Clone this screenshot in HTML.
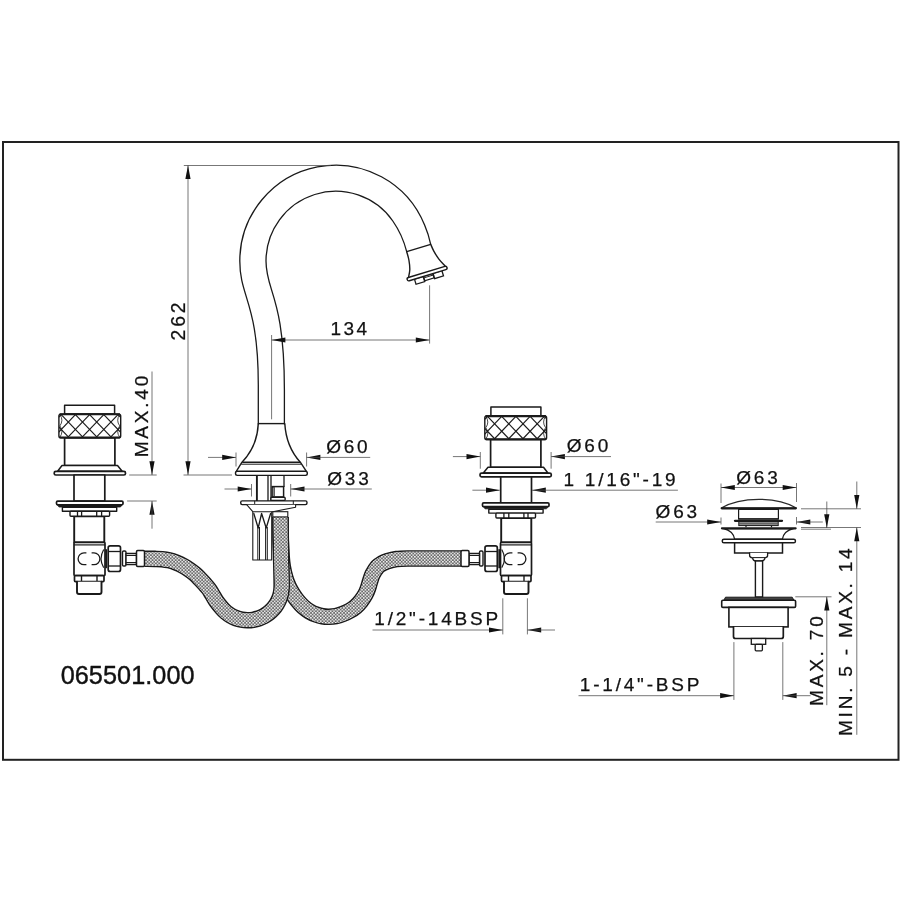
<!DOCTYPE html>
<html lang="en">
<head>
<meta charset="utf-8">
<title>065501.000</title>
<style>
html,body{margin:0;padding:0;background:#fff;}
body{width:900px;height:900px;overflow:hidden;}
svg{display:block;will-change:transform;}
text{white-space:pre;}
</style>
</head>
<body>
<svg width="900" height="900" viewBox="0 0 900 900" role="img" aria-label="Technical drawing 065501.000">
<defs>
<pattern id="hp" width="3.3" height="3.3" patternUnits="userSpaceOnUse">
<rect width="3.3" height="3.3" fill="#fff"/>
<rect width="3.3" height="3.3" fill="#6c6c6c"/>
<rect x="0" y="0" width="1.45" height="1.45" fill="#fff"/>
<rect x="1.65" y="1.65" width="1.45" height="1.45" fill="#fff"/>
</pattern>
<clipPath id="kn"><rect x="58.9" y="414.1" width="61.8" height="23.6" rx="1.8"/></clipPath>
</defs>
<rect width="900" height="900" fill="#fff"/>
<rect x="3" y="142" width="895.5" height="617.8" fill="none" stroke="#222" stroke-width="2"/>
<path d="M280.50 517.00 C280.55 520.83 280.62 533.50 280.80 540.00 C280.98 546.50 281.27 551.50 281.60 556.00 C281.93 560.50 282.17 563.32 282.80 567.00 C283.43 570.68 284.43 574.85 285.40 578.10 C286.37 581.35 287.38 583.88 288.60 586.50 C289.82 589.12 291.22 591.45 292.70 593.80 C294.18 596.15 295.78 598.47 297.50 600.60 C299.22 602.73 301.03 604.82 303.00 606.60 C304.97 608.38 307.10 609.97 309.30 611.30 C311.50 612.63 314.00 613.77 316.20 614.60 C318.40 615.43 320.38 615.95 322.50 616.30 C324.62 616.65 326.68 616.73 328.90 616.70 C331.12 616.67 333.52 616.53 335.80 616.10 C338.08 615.67 340.32 614.97 342.60 614.10 C344.88 613.23 347.30 612.15 349.50 610.90 C351.70 609.65 353.88 608.25 355.80 606.60 C357.72 604.95 359.42 603.00 361.00 601.00 C362.58 599.00 364.13 596.72 365.30 594.60 C366.47 592.48 367.22 590.45 368.00 588.30 C368.78 586.15 369.23 584.03 370.00 581.70 C370.77 579.37 371.35 576.78 372.60 574.30 C373.85 571.82 375.93 568.60 377.50 566.80 C379.07 565.00 380.38 564.43 382.00 563.50 C383.62 562.57 384.78 561.93 387.20 561.20 C389.62 560.47 392.88 559.54 396.50 559.10 C400.12 558.66 403.32 558.64 408.90 558.55 C414.48 558.46 421.32 558.55 430.00 558.55 C438.68 558.55 455.83 558.55 461.00 558.55" fill="none" stroke="#1a1a1a" stroke-width="16.6" stroke-linejoin="round"/>
<path d="M280.50 517.00 C280.55 520.83 280.62 533.50 280.80 540.00 C280.98 546.50 281.27 551.50 281.60 556.00 C281.93 560.50 282.17 563.32 282.80 567.00 C283.43 570.68 284.43 574.85 285.40 578.10 C286.37 581.35 287.38 583.88 288.60 586.50 C289.82 589.12 291.22 591.45 292.70 593.80 C294.18 596.15 295.78 598.47 297.50 600.60 C299.22 602.73 301.03 604.82 303.00 606.60 C304.97 608.38 307.10 609.97 309.30 611.30 C311.50 612.63 314.00 613.77 316.20 614.60 C318.40 615.43 320.38 615.95 322.50 616.30 C324.62 616.65 326.68 616.73 328.90 616.70 C331.12 616.67 333.52 616.53 335.80 616.10 C338.08 615.67 340.32 614.97 342.60 614.10 C344.88 613.23 347.30 612.15 349.50 610.90 C351.70 609.65 353.88 608.25 355.80 606.60 C357.72 604.95 359.42 603.00 361.00 601.00 C362.58 599.00 364.13 596.72 365.30 594.60 C366.47 592.48 367.22 590.45 368.00 588.30 C368.78 586.15 369.23 584.03 370.00 581.70 C370.77 579.37 371.35 576.78 372.60 574.30 C373.85 571.82 375.93 568.60 377.50 566.80 C379.07 565.00 380.38 564.43 382.00 563.50 C383.62 562.57 384.78 561.93 387.20 561.20 C389.62 560.47 392.88 559.54 396.50 559.10 C400.12 558.66 403.32 558.64 408.90 558.55 C414.48 558.46 421.32 558.55 430.00 558.55 C438.68 558.55 455.83 558.55 461.00 558.55" fill="none" stroke="#fff" stroke-width="13.5" stroke-linejoin="round"/>
<path d="M280.50 517.00 C280.55 520.83 280.62 533.50 280.80 540.00 C280.98 546.50 281.27 551.50 281.60 556.00 C281.93 560.50 282.17 563.32 282.80 567.00 C283.43 570.68 284.43 574.85 285.40 578.10 C286.37 581.35 287.38 583.88 288.60 586.50 C289.82 589.12 291.22 591.45 292.70 593.80 C294.18 596.15 295.78 598.47 297.50 600.60 C299.22 602.73 301.03 604.82 303.00 606.60 C304.97 608.38 307.10 609.97 309.30 611.30 C311.50 612.63 314.00 613.77 316.20 614.60 C318.40 615.43 320.38 615.95 322.50 616.30 C324.62 616.65 326.68 616.73 328.90 616.70 C331.12 616.67 333.52 616.53 335.80 616.10 C338.08 615.67 340.32 614.97 342.60 614.10 C344.88 613.23 347.30 612.15 349.50 610.90 C351.70 609.65 353.88 608.25 355.80 606.60 C357.72 604.95 359.42 603.00 361.00 601.00 C362.58 599.00 364.13 596.72 365.30 594.60 C366.47 592.48 367.22 590.45 368.00 588.30 C368.78 586.15 369.23 584.03 370.00 581.70 C370.77 579.37 371.35 576.78 372.60 574.30 C373.85 571.82 375.93 568.60 377.50 566.80 C379.07 565.00 380.38 564.43 382.00 563.50 C383.62 562.57 384.78 561.93 387.20 561.20 C389.62 560.47 392.88 559.54 396.50 559.10 C400.12 558.66 403.32 558.64 408.90 558.55 C414.48 558.46 421.32 558.55 430.00 558.55 C438.68 558.55 455.83 558.55 461.00 558.55" fill="none" stroke="url(#hp)" stroke-width="13.5" stroke-linejoin="round"/>
<path d="M144.60 558.80 C146.33 558.82 152.07 558.83 155.00 558.90 C157.93 558.97 159.87 558.97 162.20 559.20 C164.53 559.43 166.70 559.75 169.00 560.30 C171.30 560.85 173.67 561.60 176.00 562.50 C178.33 563.40 180.83 564.53 183.00 565.70 C185.17 566.87 187.00 568.12 189.00 569.50 C191.00 570.88 193.17 572.42 195.00 574.00 C196.83 575.58 198.38 577.33 200.00 579.00 C201.62 580.67 203.22 582.33 204.70 584.00 C206.18 585.67 207.63 587.25 208.90 589.00 C210.17 590.75 211.08 592.50 212.30 594.50 C213.52 596.50 214.61 598.72 216.20 601.00 C217.79 603.28 220.24 606.28 221.87 608.16 C223.50 610.04 224.50 611.03 225.98 612.28 C227.45 613.52 229.06 614.66 230.73 615.63 C232.40 616.60 234.17 617.45 235.99 618.12 C237.80 618.80 239.69 619.32 241.59 619.68 C243.49 620.03 245.45 620.22 247.38 620.25 C249.31 620.27 251.27 620.13 253.18 619.82 C255.09 619.51 256.99 619.03 258.82 618.41 C260.65 617.78 262.45 616.98 264.14 616.05 C265.83 615.11 267.46 614.02 268.97 612.81 C270.48 611.60 271.90 610.25 273.18 608.80 C274.46 607.35 275.63 605.77 276.64 604.12 C277.65 602.48 278.53 600.72 279.25 598.92 C279.96 597.13 280.53 595.25 280.93 593.36 C281.32 591.46 281.52 590.14 281.63 587.58 C281.74 585.02 281.67 582.60 281.60 578.00 C281.53 573.40 281.35 566.33 281.20 560.00 C281.05 553.67 280.82 547.17 280.70 540.00 C280.58 532.83 280.53 520.83 280.50 517.00" fill="none" stroke="#1a1a1a" stroke-width="16.6" stroke-linejoin="round"/>
<path d="M144.60 558.80 C146.33 558.82 152.07 558.83 155.00 558.90 C157.93 558.97 159.87 558.97 162.20 559.20 C164.53 559.43 166.70 559.75 169.00 560.30 C171.30 560.85 173.67 561.60 176.00 562.50 C178.33 563.40 180.83 564.53 183.00 565.70 C185.17 566.87 187.00 568.12 189.00 569.50 C191.00 570.88 193.17 572.42 195.00 574.00 C196.83 575.58 198.38 577.33 200.00 579.00 C201.62 580.67 203.22 582.33 204.70 584.00 C206.18 585.67 207.63 587.25 208.90 589.00 C210.17 590.75 211.08 592.50 212.30 594.50 C213.52 596.50 214.61 598.72 216.20 601.00 C217.79 603.28 220.24 606.28 221.87 608.16 C223.50 610.04 224.50 611.03 225.98 612.28 C227.45 613.52 229.06 614.66 230.73 615.63 C232.40 616.60 234.17 617.45 235.99 618.12 C237.80 618.80 239.69 619.32 241.59 619.68 C243.49 620.03 245.45 620.22 247.38 620.25 C249.31 620.27 251.27 620.13 253.18 619.82 C255.09 619.51 256.99 619.03 258.82 618.41 C260.65 617.78 262.45 616.98 264.14 616.05 C265.83 615.11 267.46 614.02 268.97 612.81 C270.48 611.60 271.90 610.25 273.18 608.80 C274.46 607.35 275.63 605.77 276.64 604.12 C277.65 602.48 278.53 600.72 279.25 598.92 C279.96 597.13 280.53 595.25 280.93 593.36 C281.32 591.46 281.52 590.14 281.63 587.58 C281.74 585.02 281.67 582.60 281.60 578.00 C281.53 573.40 281.35 566.33 281.20 560.00 C281.05 553.67 280.82 547.17 280.70 540.00 C280.58 532.83 280.53 520.83 280.50 517.00" fill="none" stroke="#fff" stroke-width="13.5" stroke-linejoin="round"/>
<path d="M144.60 558.80 C146.33 558.82 152.07 558.83 155.00 558.90 C157.93 558.97 159.87 558.97 162.20 559.20 C164.53 559.43 166.70 559.75 169.00 560.30 C171.30 560.85 173.67 561.60 176.00 562.50 C178.33 563.40 180.83 564.53 183.00 565.70 C185.17 566.87 187.00 568.12 189.00 569.50 C191.00 570.88 193.17 572.42 195.00 574.00 C196.83 575.58 198.38 577.33 200.00 579.00 C201.62 580.67 203.22 582.33 204.70 584.00 C206.18 585.67 207.63 587.25 208.90 589.00 C210.17 590.75 211.08 592.50 212.30 594.50 C213.52 596.50 214.61 598.72 216.20 601.00 C217.79 603.28 220.24 606.28 221.87 608.16 C223.50 610.04 224.50 611.03 225.98 612.28 C227.45 613.52 229.06 614.66 230.73 615.63 C232.40 616.60 234.17 617.45 235.99 618.12 C237.80 618.80 239.69 619.32 241.59 619.68 C243.49 620.03 245.45 620.22 247.38 620.25 C249.31 620.27 251.27 620.13 253.18 619.82 C255.09 619.51 256.99 619.03 258.82 618.41 C260.65 617.78 262.45 616.98 264.14 616.05 C265.83 615.11 267.46 614.02 268.97 612.81 C270.48 611.60 271.90 610.25 273.18 608.80 C274.46 607.35 275.63 605.77 276.64 604.12 C277.65 602.48 278.53 600.72 279.25 598.92 C279.96 597.13 280.53 595.25 280.93 593.36 C281.32 591.46 281.52 590.14 281.63 587.58 C281.74 585.02 281.67 582.60 281.60 578.00 C281.53 573.40 281.35 566.33 281.20 560.00 C281.05 553.67 280.82 547.17 280.70 540.00 C280.58 532.83 280.53 520.83 280.50 517.00" fill="none" stroke="url(#hp)" stroke-width="13.5" stroke-linejoin="round"/>
<g fill="#fff" stroke="#1a1a1a" stroke-width="1.5" stroke-linejoin="round">
<rect x="74.20" y="516.20" width="30.10" height="26.20" rx="0.00" fill="#fff" stroke="#1a1a1a" stroke-width="1.90"/>
<rect x="74.00" y="542.40" width="31.00" height="33.20" rx="1.00" fill="#fff" stroke="#1a1a1a" stroke-width="1.70"/>
<line x1="74.00" y1="544.90" x2="105.00" y2="544.90" stroke="#1a1a1a" stroke-width="1.20" />
<rect x="74.50" y="575.60" width="29.50" height="6.00" rx="1.00" fill="#fff" stroke="#1a1a1a" stroke-width="1.70"/>
<line x1="81.50" y1="575.60" x2="81.50" y2="581.60" stroke="#1a1a1a" stroke-width="1.40" />
<line x1="97.00" y1="575.60" x2="97.00" y2="581.60" stroke="#1a1a1a" stroke-width="1.40" />
<path d="M77.0 581.8 L77.0 592 Q77.0 594 79.0 594 L99.5 594 Q101.5 594 101.5 592 L101.5 581.8" fill="#fff" stroke="#1a1a1a" stroke-width="1.90" stroke-linejoin="round" stroke-linecap="round" />
<path d="M103.5 550 Q98.6 558.6 103.5 567.2" fill="none" stroke="#1a1a1a" stroke-width="1.20" stroke-linejoin="round" stroke-linecap="round" />
<line x1="106.20" y1="549.20" x2="106.20" y2="568.20" stroke="#1a1a1a" stroke-width="1.90" />
<path d="M110.2 545.8 L118.5 545.8 Q120.5 545.8 120.5 547.8 L120.5 569.5 Q120.5 571.5 118.5 571.5 L110.2 571.5 Q108.2 571.5 108.2 569.5 L108.2 547.8 Q108.2 545.8 110.2 545.8 Z" fill="#fff" stroke="#1a1a1a" stroke-width="1.70" stroke-linejoin="round" stroke-linecap="round" />
<line x1="108.20" y1="551.50" x2="120.50" y2="551.50" stroke="#1a1a1a" stroke-width="1.30" />
<line x1="108.20" y1="566.00" x2="120.50" y2="566.00" stroke="#1a1a1a" stroke-width="1.30" />
<rect x="122.50" y="551.00" width="3.50" height="15.00" rx="1.20" fill="#fff" stroke="#1a1a1a" stroke-width="1.40"/>
<rect x="126.00" y="553.50" width="10.50" height="11.00" rx="0.00" fill="#fff" stroke="#1a1a1a" stroke-width="1.40"/>
<line x1="126.00" y1="555.50" x2="136.50" y2="555.50" stroke="#1a1a1a" stroke-width="1.00" />
<line x1="126.00" y1="562.50" x2="136.50" y2="562.50" stroke="#1a1a1a" stroke-width="1.00" />
<rect x="136.50" y="550.50" width="8.00" height="16.00" rx="1.20" fill="#fff" stroke="#1a1a1a" stroke-width="1.50"/>
</g>
<g fill="#fff" stroke="#1a1a1a" stroke-width="1.5" stroke-linejoin="round">
<rect x="64.60" y="405.20" width="50.00" height="8.90" rx="0.00" fill="#fff" stroke="#1a1a1a" stroke-width="1.50"/>
<rect x="64.60" y="437.60" width="50.30" height="27.90" rx="0.00" fill="#fff" stroke="#1a1a1a" stroke-width="1.70"/>
<rect x="58.9" y="414.1" width="61.8" height="23.6" rx="1.8" fill="#fff" stroke="#1a1a1a" stroke-width="1.4"/>
<g clip-path="url(#kn)" stroke-width="1.15" fill="none">
<line x1="32.80" y1="414.60" x2="54.40" y2="437.20"/>
<line x1="32.80" y1="414.60" x2="11.20" y2="437.20"/>
<line x1="47.00" y1="414.60" x2="68.60" y2="437.20"/>
<line x1="47.00" y1="414.60" x2="25.40" y2="437.20"/>
<line x1="61.20" y1="414.60" x2="82.80" y2="437.20"/>
<line x1="61.20" y1="414.60" x2="39.60" y2="437.20"/>
<line x1="75.40" y1="414.60" x2="97.00" y2="437.20"/>
<line x1="75.40" y1="414.60" x2="53.80" y2="437.20"/>
<line x1="89.60" y1="414.60" x2="111.20" y2="437.20"/>
<line x1="89.60" y1="414.60" x2="68.00" y2="437.20"/>
<line x1="103.80" y1="414.60" x2="125.40" y2="437.20"/>
<line x1="103.80" y1="414.60" x2="82.20" y2="437.20"/>
<line x1="118.00" y1="414.60" x2="139.60" y2="437.20"/>
<line x1="118.00" y1="414.60" x2="96.40" y2="437.20"/>
<line x1="132.20" y1="414.60" x2="153.80" y2="437.20"/>
<line x1="132.20" y1="414.60" x2="110.60" y2="437.20"/>
<line x1="146.40" y1="414.60" x2="168.00" y2="437.20"/>
<line x1="146.40" y1="414.60" x2="124.80" y2="437.20"/>
<path stroke-width="0.8" d="M59.90 414.60 Q63.90 420.25 59.90 425.90 Q63.90 431.55 59.90 437.20"/>
<path stroke-width="0.8" d="M119.70 414.60 Q115.70 420.25 119.70 425.90 Q115.70 431.55 119.70 437.20"/>
</g>
<line x1="59.60" y1="414.30" x2="120.00" y2="414.30" stroke="#1a1a1a" stroke-width="2.10" />
<line x1="59.60" y1="437.50" x2="120.00" y2="437.50" stroke="#1a1a1a" stroke-width="2.10" />
<path d="M62 465.5 L117.5 465.5 L122.2 471.2 L57.6 471.2 Z" fill="#fff" stroke="#1a1a1a" stroke-width="1.50" stroke-linejoin="round" stroke-linecap="round" />
<rect x="54.20" y="471.30" width="71.30" height="3.70" rx="1.60" fill="#fff" stroke="#1a1a1a" stroke-width="1.70"/>
<rect x="74.00" y="475.00" width="30.80" height="26.10" rx="0.00" fill="#fff" stroke="#1a1a1a" stroke-width="1.70"/>
<rect x="56.50" y="501.10" width="66.50" height="3.70" rx="1.20" fill="#fff" stroke="#1a1a1a" stroke-width="1.70"/>
<path d="M57.8 504.8 L122.0 504.8 L120.5 507.0 L59.3 507.0 Z" fill="#1a1a1a" stroke="#1a1a1a" stroke-width="0.80" stroke-linejoin="round" stroke-linecap="round" />
<rect x="62.40" y="507.40" width="54.30" height="3.90" rx="0.00" fill="#fff" stroke="#1a1a1a" stroke-width="1.40"/>
<rect x="70.00" y="511.30" width="39.60" height="4.90" rx="1.00" fill="#fff" stroke="#1a1a1a" stroke-width="1.40"/>
<line x1="77.50" y1="511.30" x2="77.50" y2="516.20" stroke="#1a1a1a" stroke-width="1.30" />
<line x1="81.60" y1="511.30" x2="81.60" y2="516.20" stroke="#1a1a1a" stroke-width="1.30" />
<line x1="96.70" y1="511.30" x2="96.70" y2="516.20" stroke="#1a1a1a" stroke-width="1.30" />
<line x1="101.60" y1="511.30" x2="101.60" y2="516.20" stroke="#1a1a1a" stroke-width="1.30" />
</g>
<g transform="translate(605.5 0) scale(-1 1)">
<g fill="#fff" stroke="#1a1a1a" stroke-width="1.5" stroke-linejoin="round">
<rect x="74.20" y="518.00" width="30.10" height="24.40" rx="0.00" fill="#fff" stroke="#1a1a1a" stroke-width="1.90"/>
<rect x="74.00" y="542.40" width="31.00" height="33.20" rx="1.00" fill="#fff" stroke="#1a1a1a" stroke-width="1.70"/>
<line x1="74.00" y1="544.90" x2="105.00" y2="544.90" stroke="#1a1a1a" stroke-width="1.20" />
<rect x="74.50" y="575.60" width="29.50" height="6.00" rx="1.00" fill="#fff" stroke="#1a1a1a" stroke-width="1.70"/>
<line x1="81.50" y1="575.60" x2="81.50" y2="581.60" stroke="#1a1a1a" stroke-width="1.40" />
<line x1="97.00" y1="575.60" x2="97.00" y2="581.60" stroke="#1a1a1a" stroke-width="1.40" />
<path d="M77.0 581.8 L77.0 592 Q77.0 594 79.0 594 L99.5 594 Q101.5 594 101.5 592 L101.5 581.8" fill="#fff" stroke="#1a1a1a" stroke-width="1.90" stroke-linejoin="round" stroke-linecap="round" />
<path d="M103.5 550 Q98.6 558.6 103.5 567.2" fill="none" stroke="#1a1a1a" stroke-width="1.20" stroke-linejoin="round" stroke-linecap="round" />
<line x1="106.20" y1="549.20" x2="106.20" y2="568.20" stroke="#1a1a1a" stroke-width="1.90" />
<path d="M110.2 545.8 L118.5 545.8 Q120.5 545.8 120.5 547.8 L120.5 569.5 Q120.5 571.5 118.5 571.5 L110.2 571.5 Q108.2 571.5 108.2 569.5 L108.2 547.8 Q108.2 545.8 110.2 545.8 Z" fill="#fff" stroke="#1a1a1a" stroke-width="1.70" stroke-linejoin="round" stroke-linecap="round" />
<line x1="108.20" y1="551.50" x2="120.50" y2="551.50" stroke="#1a1a1a" stroke-width="1.30" />
<line x1="108.20" y1="566.00" x2="120.50" y2="566.00" stroke="#1a1a1a" stroke-width="1.30" />
<rect x="122.50" y="551.00" width="3.50" height="15.00" rx="1.20" fill="#fff" stroke="#1a1a1a" stroke-width="1.40"/>
<rect x="126.00" y="553.50" width="10.50" height="11.00" rx="0.00" fill="#fff" stroke="#1a1a1a" stroke-width="1.40"/>
<line x1="126.00" y1="555.50" x2="136.50" y2="555.50" stroke="#1a1a1a" stroke-width="1.00" />
<line x1="126.00" y1="562.50" x2="136.50" y2="562.50" stroke="#1a1a1a" stroke-width="1.00" />
<rect x="136.50" y="550.50" width="8.00" height="16.00" rx="1.20" fill="#fff" stroke="#1a1a1a" stroke-width="1.50"/>
</g>
</g>
<g transform="translate(605.5 1.8) scale(-1 1)">
<g fill="#fff" stroke="#1a1a1a" stroke-width="1.5" stroke-linejoin="round">
<rect x="64.60" y="405.20" width="50.00" height="8.90" rx="0.00" fill="#fff" stroke="#1a1a1a" stroke-width="1.50"/>
<rect x="64.60" y="437.60" width="50.30" height="27.90" rx="0.00" fill="#fff" stroke="#1a1a1a" stroke-width="1.70"/>
<rect x="58.9" y="414.1" width="61.8" height="23.6" rx="1.8" fill="#fff" stroke="#1a1a1a" stroke-width="1.4"/>
<g clip-path="url(#kn)" stroke-width="1.15" fill="none">
<line x1="32.80" y1="414.60" x2="54.40" y2="437.20"/>
<line x1="32.80" y1="414.60" x2="11.20" y2="437.20"/>
<line x1="47.00" y1="414.60" x2="68.60" y2="437.20"/>
<line x1="47.00" y1="414.60" x2="25.40" y2="437.20"/>
<line x1="61.20" y1="414.60" x2="82.80" y2="437.20"/>
<line x1="61.20" y1="414.60" x2="39.60" y2="437.20"/>
<line x1="75.40" y1="414.60" x2="97.00" y2="437.20"/>
<line x1="75.40" y1="414.60" x2="53.80" y2="437.20"/>
<line x1="89.60" y1="414.60" x2="111.20" y2="437.20"/>
<line x1="89.60" y1="414.60" x2="68.00" y2="437.20"/>
<line x1="103.80" y1="414.60" x2="125.40" y2="437.20"/>
<line x1="103.80" y1="414.60" x2="82.20" y2="437.20"/>
<line x1="118.00" y1="414.60" x2="139.60" y2="437.20"/>
<line x1="118.00" y1="414.60" x2="96.40" y2="437.20"/>
<line x1="132.20" y1="414.60" x2="153.80" y2="437.20"/>
<line x1="132.20" y1="414.60" x2="110.60" y2="437.20"/>
<line x1="146.40" y1="414.60" x2="168.00" y2="437.20"/>
<line x1="146.40" y1="414.60" x2="124.80" y2="437.20"/>
<path stroke-width="0.8" d="M59.90 414.60 Q63.90 420.25 59.90 425.90 Q63.90 431.55 59.90 437.20"/>
<path stroke-width="0.8" d="M119.70 414.60 Q115.70 420.25 119.70 425.90 Q115.70 431.55 119.70 437.20"/>
</g>
<line x1="59.60" y1="414.30" x2="120.00" y2="414.30" stroke="#1a1a1a" stroke-width="2.10" />
<line x1="59.60" y1="437.50" x2="120.00" y2="437.50" stroke="#1a1a1a" stroke-width="2.10" />
<path d="M62 465.5 L117.5 465.5 L122.2 471.2 L57.6 471.2 Z" fill="#fff" stroke="#1a1a1a" stroke-width="1.50" stroke-linejoin="round" stroke-linecap="round" />
<rect x="54.20" y="471.30" width="71.30" height="3.70" rx="1.60" fill="#fff" stroke="#1a1a1a" stroke-width="1.70"/>
<rect x="74.00" y="475.00" width="30.80" height="26.10" rx="0.00" fill="#fff" stroke="#1a1a1a" stroke-width="1.70"/>
<rect x="56.50" y="501.10" width="66.50" height="3.70" rx="1.20" fill="#fff" stroke="#1a1a1a" stroke-width="1.70"/>
<path d="M57.8 504.8 L122.0 504.8 L120.5 507.0 L59.3 507.0 Z" fill="#1a1a1a" stroke="#1a1a1a" stroke-width="0.80" stroke-linejoin="round" stroke-linecap="round" />
<rect x="62.40" y="507.40" width="54.30" height="3.90" rx="0.00" fill="#fff" stroke="#1a1a1a" stroke-width="1.40"/>
<rect x="70.00" y="511.30" width="39.60" height="4.90" rx="1.00" fill="#fff" stroke="#1a1a1a" stroke-width="1.40"/>
<line x1="77.50" y1="511.30" x2="77.50" y2="516.20" stroke="#1a1a1a" stroke-width="1.30" />
<line x1="81.60" y1="511.30" x2="81.60" y2="516.20" stroke="#1a1a1a" stroke-width="1.30" />
<line x1="96.70" y1="511.30" x2="96.70" y2="516.20" stroke="#1a1a1a" stroke-width="1.30" />
<line x1="101.60" y1="511.30" x2="101.60" y2="516.20" stroke="#1a1a1a" stroke-width="1.30" />
</g>
</g>
<path d="M86.40 552.90 h-2.4 a5.9 5.9 0 0 0 0 11.8 h2.4" fill="none" stroke="#1a1a1a" stroke-width="1.3"/>
<path d="M91.60 552.90 h2.4 a5.9 5.9 0 0 1 0 11.8 h-2.4" fill="none" stroke="#1a1a1a" stroke-width="1.3"/>
<path d="M512.40 552.90 h-2.4 a5.9 5.9 0 0 0 0 11.8 h2.4" fill="none" stroke="#1a1a1a" stroke-width="1.3"/>
<path d="M517.60 552.90 h2.4 a5.9 5.9 0 0 1 0 11.8 h-2.4" fill="none" stroke="#1a1a1a" stroke-width="1.3"/>
<line x1="271.60" y1="335.00" x2="271.60" y2="419.30" stroke="#4a4a4a" stroke-width="0.75" />
<path d="M258.3 424 L258.3 385 C258.3 302.25 239.8 298.07 239.8 261 A95.9 95.9 0 0 1 424.6 225.1 Q428.6 234.5 430.7 244.3" fill="none" stroke="#1a1a1a" stroke-width="1.30" stroke-linejoin="round" stroke-linecap="round" />
<path d="M284.4 424 L284.4 390 C284.4 296.44 266.0 291.92 266.0 261 A69.7 69.7 0 0 1 392.8 221.0 C398.6 229.3 404 241 406.7 251.7" fill="none" stroke="#1a1a1a" stroke-width="1.30" stroke-linejoin="round" stroke-linecap="round" />
<line x1="406.70" y1="251.70" x2="430.70" y2="244.30" stroke="#1a1a1a" stroke-width="1.40" />
<path d="M406.70 251.70 C407.07 253.08 408.38 256.98 408.90 260.00 C409.42 263.02 409.88 266.83 409.80 269.80 C409.72 272.77 408.63 276.47 408.40 277.80" fill="none" stroke="#1a1a1a" stroke-width="1.40" stroke-linejoin="round" stroke-linecap="round" />
<path d="M430.70 244.30 C431.22 245.43 432.43 248.63 433.80 251.10 C435.17 253.57 437.05 256.65 438.90 259.10 C440.75 261.55 443.90 264.68 444.90 265.80" fill="none" stroke="#1a1a1a" stroke-width="1.40" stroke-linejoin="round" stroke-linecap="round" />
<g transform="translate(427.1 273.6) rotate(-16.9)">
<rect x="-13.70" y="1.50" width="9.10" height="5.50" rx="0.00" fill="#fff" stroke="#1a1a1a" stroke-width="1.30"/>
<rect x="-4.20" y="1.50" width="9.60" height="4.70" rx="0.00" fill="#fff" stroke="#1a1a1a" stroke-width="1.20"/>
<line x1="-4.20" y1="3.20" x2="5.40" y2="3.20" stroke="#1a1a1a" stroke-width="1.00" />
<rect x="5.80" y="1.50" width="9.20" height="5.50" rx="0.00" fill="#fff" stroke="#1a1a1a" stroke-width="1.30"/>
<rect x="-20.80" y="-1.70" width="41.60" height="3.40" rx="1.70" fill="#fff" stroke="#1a1a1a" stroke-width="1.40"/>
</g>
<line x1="258.30" y1="423.60" x2="284.80" y2="423.60" stroke="#1a1a1a" stroke-width="1.40" />
<path d="M258.3 423.6 C257.5 440 252 452 242 462.2 L236.3 471.4" fill="none" stroke="#1a1a1a" stroke-width="1.40" stroke-linejoin="round" stroke-linecap="round" />
<path d="M284.8 423.6 C285.8 440 291 452 300.3 462.2 L306.4 471.4" fill="none" stroke="#1a1a1a" stroke-width="1.40" stroke-linejoin="round" stroke-linecap="round" />
<line x1="242.20" y1="462.20" x2="300.30" y2="462.20" stroke="#1a1a1a" stroke-width="1.40" />
<line x1="241.20" y1="464.20" x2="301.30" y2="464.20" stroke="#1a1a1a" stroke-width="1.00" />
<rect x="235.50" y="471.20" width="71.80" height="4.20" rx="1.80" fill="#fff" stroke="#1a1a1a" stroke-width="1.40"/>
<line x1="256.90" y1="475.40" x2="256.90" y2="501.00" stroke="#1a1a1a" stroke-width="1.90" />
<line x1="268.00" y1="475.40" x2="268.00" y2="501.00" stroke="#1a1a1a" stroke-width="1.30" />
<line x1="271.00" y1="475.40" x2="271.00" y2="501.00" stroke="#1a1a1a" stroke-width="1.30" />
<line x1="284.00" y1="475.40" x2="284.00" y2="487.00" stroke="#1a1a1a" stroke-width="1.30" />
<rect x="272.20" y="486.60" width="11.40" height="10.40" rx="0.00" fill="#fff" stroke="#1a1a1a" stroke-width="1.50"/>
<rect x="272.30" y="487.50" width="2.20" height="9.00" rx="0.00" fill="#888" stroke="#1a1a1a" stroke-width="0.60"/>
<rect x="270.80" y="497.20" width="14.40" height="3.20" rx="1.20" fill="#fff" stroke="#1a1a1a" stroke-width="1.40"/>
<rect x="240.70" y="500.90" width="66.30" height="3.70" rx="1.50" fill="#fff" stroke="#1a1a1a" stroke-width="1.40"/>
<line x1="254.70" y1="500.90" x2="254.70" y2="504.60" stroke="#1a1a1a" stroke-width="1.00" />
<line x1="293.30" y1="500.90" x2="293.30" y2="504.60" stroke="#1a1a1a" stroke-width="1.00" />
<path d="M246.7 504.7 L252.8 511.7 L272.8 511.7 L295.6 507.2 L295.6 504.7" fill="#fff" stroke="#1a1a1a" stroke-width="1.10" stroke-linejoin="round" stroke-linecap="round" />
<path d="M252.8 512 L252.8 560 L271.7 560 L271.7 512" fill="none" stroke="#1a1a1a" stroke-width="1.10" stroke-linejoin="round" stroke-linecap="round" />
<line x1="257.80" y1="527.00" x2="257.80" y2="560.00" stroke="#1a1a1a" stroke-width="1.00" />
<line x1="259.50" y1="527.00" x2="259.50" y2="560.00" stroke="#1a1a1a" stroke-width="1.00" />
<line x1="265.60" y1="527.00" x2="265.60" y2="560.00" stroke="#1a1a1a" stroke-width="1.00" />
<line x1="267.30" y1="527.00" x2="267.30" y2="560.00" stroke="#1a1a1a" stroke-width="1.00" />
<path d="M253.8 513.5 L258.2 528 L261.6 513.5 L266.2 528 L270.6 513.5" fill="none" stroke="#1a1a1a" stroke-width="1.30" stroke-linejoin="round" stroke-linecap="round" />
<rect x="272.80" y="511.70" width="15.00" height="5.20" rx="0.00" fill="#fff" stroke="#1a1a1a" stroke-width="1.10"/>
<g>
<path d="M721.3 508 C727 504.6 740 499.3 758.8 499.3 C777.6 499.3 790.6 504.6 796.3 508 Z" fill="#fff" stroke="#2a2a2a" stroke-width="1.20" stroke-linejoin="round" stroke-linecap="round" />
<line x1="721.80" y1="508.30" x2="795.80" y2="508.30" stroke="#1a1a1a" stroke-width="2.30" stroke-linecap="round"/>
<rect x="738.60" y="509.40" width="39.80" height="9.60" rx="0.00" fill="#fff" stroke="#1a1a1a" stroke-width="1.20"/>
<line x1="738.60" y1="518.80" x2="778.40" y2="518.80" stroke="#1a1a1a" stroke-width="1.30" />
<rect x="738.80" y="521.50" width="39.40" height="4.10" rx="0.00" fill="#8c8c8c" stroke="#1a1a1a" stroke-width="1.00"/>
<line x1="739.00" y1="523.60" x2="778.00" y2="523.60" stroke="#555" stroke-width="0.80" />
<line x1="735.00" y1="520.80" x2="782.00" y2="520.80" stroke="#1a1a1a" stroke-width="2.30" stroke-linecap="round"/>
<line x1="746.00" y1="525.60" x2="746.00" y2="527.30" stroke="#1a1a1a" stroke-width="1.20" />
<line x1="771.50" y1="525.60" x2="771.50" y2="527.30" stroke="#1a1a1a" stroke-width="1.20" />
<path d="M723.5 528.6 C730.5 530.2 733.8 533.5 734.6 539.2 L782.4 539.2 C783.2 533.5 786.5 530.2 793.5 528.6 Z" fill="#fff" stroke="#1a1a1a" stroke-width="1.30" stroke-linejoin="round" stroke-linecap="round" />
<line x1="722.00" y1="528.30" x2="795.60" y2="528.30" stroke="#1a1a1a" stroke-width="2.30" stroke-linecap="round"/>
<rect x="722.30" y="539.20" width="73.10" height="3.60" rx="1.60" fill="#fff" stroke="#1a1a1a" stroke-width="1.50"/>
<rect x="734.60" y="542.80" width="47.90" height="10.20" rx="0.00" fill="#fff" stroke="#1a1a1a" stroke-width="1.50"/>
<path d="M749.6 553 L749.6 555.5 Q749.6 557.5 752.5 557.8 Q753 560.8 756 561 L761.5 561 Q764.5 560.8 765 557.8 Q767.6 557.5 767.6 555.5 L767.6 553" fill="#fff" stroke="#1a1a1a" stroke-width="1.30" stroke-linejoin="round" stroke-linecap="round" />
<line x1="752.50" y1="557.60" x2="765.00" y2="557.60" stroke="#1a1a1a" stroke-width="1.00" />
<rect x="755.40" y="561.00" width="7.20" height="36.00" rx="0.00" fill="#fff" stroke="#1a1a1a" stroke-width="1.40"/>
<path d="M724 600 L725.5 597.2 L792.2 597.2 L793.8 600 Z" fill="#444" stroke="#1a1a1a" stroke-width="1.00" stroke-linejoin="round" stroke-linecap="round" />
<rect x="721.70" y="600.20" width="73.90" height="7.20" rx="1.20" fill="#fff" stroke="#1a1a1a" stroke-width="1.60"/>
<rect x="728.90" y="607.40" width="59.20" height="19.50" rx="0.00" fill="#fff" stroke="#1a1a1a" stroke-width="1.60"/>
<path d="M733.5 626.9 L733.5 636.5 Q733.5 638.5 735.5 638.5 L781.3 638.5 Q783.3 638.5 783.3 636.5 L783.3 626.9" fill="#fff" stroke="#1a1a1a" stroke-width="1.70" stroke-linejoin="round" stroke-linecap="round" />
<rect x="751.30" y="638.50" width="14.40" height="5.80" rx="0.00" fill="#fff" stroke="#1a1a1a" stroke-width="1.30"/>
<rect x="755.20" y="644.30" width="7.20" height="6.50" rx="1.00" fill="#fff" stroke="#1a1a1a" stroke-width="1.30"/>
</g>
<line x1="183.80" y1="165.50" x2="331.00" y2="165.50" stroke="#4a4a4a" stroke-width="0.75" />
<line x1="188.00" y1="165.50" x2="188.00" y2="475.00" stroke="#4a4a4a" stroke-width="0.75" />
<polygon points="188.00,165.20 190.60,179.00 185.40,179.00" fill="#111"/>
<polygon points="188.00,475.00 185.40,461.20 190.60,461.20" fill="#111"/>
<line x1="183.50" y1="475.00" x2="232.00" y2="475.00" stroke="#4a4a4a" stroke-width="0.75" />
<line x1="271.60" y1="340.00" x2="429.60" y2="340.00" stroke="#4a4a4a" stroke-width="0.75" />
<polygon points="271.60,340.00 285.40,337.40 285.40,342.60" fill="#111"/>
<polygon points="429.60,340.00 415.80,342.60 415.80,337.40" fill="#111"/>
<line x1="429.60" y1="285.30" x2="429.60" y2="343.60" stroke="#4a4a4a" stroke-width="0.75" />
<line x1="152.00" y1="371.50" x2="152.00" y2="475.00" stroke="#4a4a4a" stroke-width="0.75" />
<polygon points="152.00,475.00 149.40,461.20 154.60,461.20" fill="#111"/>
<line x1="129.20" y1="475.00" x2="156.70" y2="475.00" stroke="#4a4a4a" stroke-width="0.75" />
<line x1="127.10" y1="501.00" x2="156.70" y2="501.00" stroke="#4a4a4a" stroke-width="0.75" />
<polygon points="152.00,501.00 154.60,514.80 149.40,514.80" fill="#111"/>
<line x1="152.00" y1="501.00" x2="152.00" y2="528.70" stroke="#4a4a4a" stroke-width="0.75" />
<line x1="208.00" y1="457.40" x2="236.00" y2="457.40" stroke="#4a4a4a" stroke-width="0.75" />
<polygon points="236.00,457.40 222.20,460.00 222.20,454.80" fill="#111"/>
<line x1="236.00" y1="452.50" x2="236.00" y2="466.50" stroke="#4a4a4a" stroke-width="0.75" />
<line x1="306.60" y1="452.50" x2="306.60" y2="466.50" stroke="#4a4a4a" stroke-width="0.75" />
<polygon points="306.60,457.40 320.40,454.80 320.40,460.00" fill="#111"/>
<line x1="306.60" y1="457.40" x2="370.20" y2="457.40" stroke="#4a4a4a" stroke-width="0.75" />
<line x1="224.50" y1="489.00" x2="251.50" y2="489.00" stroke="#4a4a4a" stroke-width="0.75" />
<polygon points="251.50,489.00 237.70,491.60 237.70,486.40" fill="#111"/>
<line x1="251.50" y1="484.00" x2="251.50" y2="496.50" stroke="#4a4a4a" stroke-width="0.75" />
<line x1="290.70" y1="484.00" x2="290.70" y2="496.50" stroke="#4a4a4a" stroke-width="0.75" />
<polygon points="290.70,489.00 304.50,486.40 304.50,491.60" fill="#111"/>
<line x1="290.70" y1="489.00" x2="371.80" y2="489.00" stroke="#4a4a4a" stroke-width="0.75" />
<line x1="452.90" y1="456.60" x2="480.30" y2="456.60" stroke="#4a4a4a" stroke-width="0.75" />
<polygon points="480.30,456.60 466.50,459.20 466.50,454.00" fill="#111"/>
<line x1="480.30" y1="452.00" x2="480.30" y2="468.70" stroke="#4a4a4a" stroke-width="0.75" />
<line x1="551.10" y1="452.00" x2="551.10" y2="468.70" stroke="#4a4a4a" stroke-width="0.75" />
<polygon points="551.10,456.60 564.90,454.00 564.90,459.20" fill="#111"/>
<line x1="551.10" y1="456.60" x2="611.00" y2="456.60" stroke="#4a4a4a" stroke-width="0.75" />
<line x1="472.40" y1="490.20" x2="499.80" y2="490.20" stroke="#4a4a4a" stroke-width="0.75" />
<polygon points="499.80,490.20 486.00,492.80 486.00,487.60" fill="#111"/>
<polygon points="532.00,490.20 545.80,487.60 545.80,492.80" fill="#111"/>
<line x1="532.00" y1="490.20" x2="677.90" y2="490.20" stroke="#4a4a4a" stroke-width="0.75" />
<line x1="372.50" y1="630.00" x2="502.80" y2="630.00" stroke="#4a4a4a" stroke-width="0.75" />
<polygon points="502.80,630.00 489.00,632.60 489.00,627.40" fill="#111"/>
<line x1="502.80" y1="598.30" x2="502.80" y2="634.40" stroke="#4a4a4a" stroke-width="0.75" />
<line x1="527.40" y1="598.30" x2="527.40" y2="634.40" stroke="#4a4a4a" stroke-width="0.75" />
<polygon points="527.40,630.00 541.20,627.40 541.20,632.60" fill="#111"/>
<line x1="527.40" y1="630.00" x2="555.00" y2="630.00" stroke="#4a4a4a" stroke-width="0.75" />
<line x1="721.00" y1="487.50" x2="796.50" y2="487.50" stroke="#4a4a4a" stroke-width="0.75" />
<polygon points="721.00,487.50 734.80,484.90 734.80,490.10" fill="#111"/>
<polygon points="796.50,487.50 782.70,490.10 782.70,484.90" fill="#111"/>
<line x1="721.00" y1="483.50" x2="721.00" y2="503.00" stroke="#4a4a4a" stroke-width="0.75" />
<line x1="796.50" y1="483.00" x2="796.50" y2="502.00" stroke="#4a4a4a" stroke-width="0.75" />
<line x1="721.00" y1="517.50" x2="721.00" y2="524.50" stroke="#4a4a4a" stroke-width="0.75" />
<line x1="796.50" y1="517.00" x2="796.50" y2="524.50" stroke="#4a4a4a" stroke-width="0.75" />
<line x1="655.70" y1="522.00" x2="721.00" y2="522.00" stroke="#4a4a4a" stroke-width="0.75" />
<polygon points="721.00,522.00 707.20,524.60 707.20,519.40" fill="#111"/>
<polygon points="796.50,522.00 810.30,519.40 810.30,524.60" fill="#111"/>
<line x1="796.50" y1="522.00" x2="822.80" y2="522.00" stroke="#4a4a4a" stroke-width="0.75" />
<line x1="801.00" y1="508.80" x2="861.00" y2="508.80" stroke="#4a4a4a" stroke-width="0.75" />
<line x1="801.00" y1="527.50" x2="861.00" y2="527.50" stroke="#4a4a4a" stroke-width="0.75" />
<line x1="801.00" y1="529.20" x2="831.00" y2="529.20" stroke="#4a4a4a" stroke-width="0.75" />
<line x1="826.80" y1="501.50" x2="826.80" y2="528.00" stroke="#4a4a4a" stroke-width="0.75" />
<polygon points="826.80,528.00 824.20,514.20 829.40,514.20" fill="#111"/>
<line x1="856.80" y1="481.50" x2="856.80" y2="508.80" stroke="#4a4a4a" stroke-width="0.75" />
<polygon points="856.80,508.80 854.20,495.00 859.40,495.00" fill="#111"/>
<line x1="856.80" y1="527.50" x2="856.80" y2="734.80" stroke="#4a4a4a" stroke-width="0.75" />
<polygon points="856.80,527.50 859.40,541.30 854.20,541.30" fill="#111"/>
<line x1="795.30" y1="596.80" x2="831.50" y2="596.80" stroke="#4a4a4a" stroke-width="0.75" />
<line x1="826.80" y1="596.80" x2="826.80" y2="705.20" stroke="#4a4a4a" stroke-width="0.75" />
<polygon points="826.80,596.80 829.40,610.60 824.20,610.60" fill="#111"/>
<line x1="578.50" y1="695.70" x2="733.90" y2="695.70" stroke="#4a4a4a" stroke-width="0.75" />
<polygon points="733.90,695.70 720.10,698.30 720.10,693.10" fill="#111"/>
<line x1="733.90" y1="642.10" x2="733.90" y2="699.90" stroke="#4a4a4a" stroke-width="0.75" />
<line x1="782.80" y1="642.10" x2="782.80" y2="699.90" stroke="#4a4a4a" stroke-width="0.75" />
<polygon points="782.80,695.70 796.60,693.10 796.60,698.30" fill="#111"/>
<line x1="782.80" y1="695.70" x2="810.50" y2="695.70" stroke="#4a4a4a" stroke-width="0.75" />
<g font-family="'Liberation Sans', Arial, sans-serif" fill="#111" stroke="#111" stroke-width="0.25" stroke-linejoin="round">
<text x="185.20" y="340.44" font-size="19.40" letter-spacing="2.80" text-anchor="start" transform="rotate(-90 185.20 340.44)">262</text>
<text x="330.54" y="335.40" font-size="19.00" letter-spacing="2.40" text-anchor="start">134</text>
<text x="148.30" y="457.29" font-size="19.00" letter-spacing="2.80" text-anchor="start" transform="rotate(-90 148.30 457.29)">MAX.40</text>
<text x="326.16" y="452.60" font-size="19.00" letter-spacing="2.80" text-anchor="start">Ø60</text>
<text x="327.21" y="485.10" font-size="19.00" letter-spacing="2.80" text-anchor="start">Ø33</text>
<text x="566.76" y="452.40" font-size="19.00" letter-spacing="2.80" text-anchor="start">Ø60</text>
<text x="563.39" y="486.00" font-size="19.00" letter-spacing="2.80" text-anchor="start">1 1/16&quot;-19</text>
<text x="736.26" y="483.60" font-size="19.00" letter-spacing="2.80" text-anchor="start">Ø63</text>
<text x="655.56" y="517.90" font-size="19.00" letter-spacing="2.80" text-anchor="start">Ø63</text>
<text x="374.29" y="625.30" font-size="19.00" letter-spacing="2.80" text-anchor="start">1/2&quot;-14BSP</text>
<text x="579.81" y="691.40" font-size="19.00" letter-spacing="2.80" text-anchor="start">1-1/4&quot;-BSP</text>
<text x="823.30" y="705.96" font-size="19.00" letter-spacing="2.80" text-anchor="start" transform="rotate(-90 823.30 705.96)">MAX. 70</text>
<text x="852.50" y="736.01" font-size="19.00" letter-spacing="2.80" text-anchor="start" transform="rotate(-90 852.50 736.01)">MIN. 5 - MAX. 14</text>
<text x="60.7" y="684.1" font-size="25.25" letter-spacing="0.05" stroke-width="0.4">065501.000</text>
</g>
</svg>
</body>
</html>
